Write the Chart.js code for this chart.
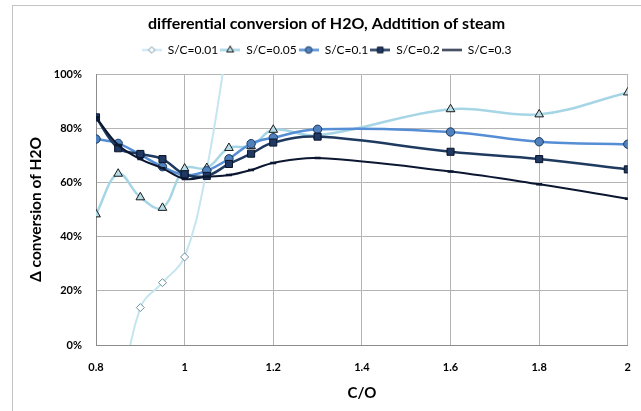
<!DOCTYPE html>
<html><head><meta charset="utf-8">
<script src="https://cdn.jsdelivr.net/npm/chart.js@4"></script>
<style>
html,body{margin:0;padding:0;background:#fff;}
#wrap{position:relative;width:641px;height:411px;overflow:hidden;}
#frame{position:absolute;left:12px;top:5px;width:700px;height:500px;border-left:1px solid #c4c4c4;border-top:1px solid #c4c4c4;}
canvas{position:absolute;left:0;top:0;}
</style></head><body>
<div id="wrap"><div id="frame"></div><canvas id="c" width="641" height="411"></canvas></div>
<script>
// ---- data ----
const chartTitle = 'differential conversion of H2O, Addtition of steam';
const xAxisTitle = 'C/O';
const yAxisTitle = '\u0394 conversion of H2O';
const seriesNames = ['S/C=0.01', 'S/C=0.05', 'S/C=0.1', 'S/C=0.2', 'S/C=0.3'];
const xValues = [0.8, 0.85, 0.9, 0.95, 1.0, 1.05, 1.1, 1.15, 1.2, 1.3, 1.6, 1.8, 2.0];
const xValuesSC001 = [0.85, 0.9, 0.95, 1.0, 1.05, 1.1];
const sc001 = [-25, 13.8, 23.0, 32.5, 65, 115];
const sc005 = [48.2, 63.2, 54.5, 50.6, 65.1, 65.3, 72.7, 73.4, 79.4, 77.3, 87.0, 85.1, 93.2];
const sc01  = [76.0, 74.4, 70.2, 65.8, 62.7, 64.3, 68.7, 74.3, 76.5, 79.6, 78.6, 75.0, 74.1];
const sc02  = [84.0, 72.6, 70.5, 68.6, 63.0, 62.4, 66.8, 70.6, 74.7, 76.9, 71.3, 68.6, 64.8];
const sc03  = [84.0, 73.8, 68.6, 65.2, 61.3, 62.1, 62.7, 64.6, 67.2, 69.0, 64.0, 59.3, 54.0];
const xTickValues = [0.8, 1.0, 1.2, 1.4, 1.6, 1.8, 2.0];
const xTickLabels = ['0.8', '1', '1.2', '1.4', '1.6', '1.8', '2'];
const yTickValues = [0, 20, 40, 60, 80, 100];
const yTickLabels = ['0%', '20%', '40%', '60%', '80%', '100%'];

const FONT = 'Lato, "Open Sans", sans-serif';
const toPts = (xs, ys) => xs.map((x, i) => ({x: x, y: ys[i]}));

const styles = [
  {line: '#c5e5f0', lw: 2,   ps: 'rectRot',  r: 4,   fill: '#ffffff', bc: '#6f8fa0', bw: 1},
  {line: '#a6d6e6', lw: 2.5, ps: 'triangle', r: 5,   fill: '#b7dde9', bc: '#1a1a1a', bw: 1},
  {line: '#558ed5', lw: 2.5, ps: 'circle',   r: 4.2, fill: '#4f81bd', bc: '#1f3a60', bw: 1},
  {line: '#1f3a5f', lw: 2.5, ps: 'rect',     r: 5,   fill: '#1f3864', bc: '#0a1428', bw: 1},
  {line: '#0b1730', lw: 2,   ps: 'line',     r: 3,   fill: '#0b1730', bc: '#0b1730', bw: 2.5}
];

function legendSymbol(st) {
  const cv = document.createElement('canvas');
  cv.width = 20; cv.height = 11;
  const g = cv.getContext('2d');
  g.strokeStyle = st.line; g.lineWidth = st.lw;
  g.beginPath(); g.moveTo(0, 5.5); g.lineTo(20, 5.5); g.stroke();
  if (st.ps !== 'line') {
    g.fillStyle = st.fill; g.strokeStyle = st.bc; g.lineWidth = st.bw;
    Chart.helpers.drawPoint(g, {pointStyle: st.ps, radius: st.r * 0.8, borderWidth: st.bw, rotation: 0}, 10, 5.5);
  }
  return cv;
}

const allData = [toPts(xValuesSC001, sc001), toPts(xValues, sc005), toPts(xValues, sc01), toPts(xValues, sc02), toPts(xValues, sc03)];

const datasets = allData.map((d, i) => ({
  label: seriesNames[i],
  data: d,
  xAxisID: 'x', yAxisID: 'y',
  borderColor: styles[i].line,
  borderWidth: styles[i].lw,
  backgroundColor: styles[i].fill,
  pointStyle: styles[i].ps,
  pointRadius: styles[i].r,
  pointBackgroundColor: styles[i].fill,
  pointBorderColor: styles[i].bc,
  pointBorderWidth: styles[i].bw,
  tension: 0.38,
  cubicInterpolationMode: 'default',
  capBezierPoints: false,
  fill: false,
  clip: 0,
  order: 5 - i
}));

new Chart(document.getElementById('c'), {
  type: 'line',
  data: {datasets: datasets},
  options: {
    responsive: false,
    animation: false,
    devicePixelRatio: 1,
    layout: {padding: {left: 12, top: 0, right: 0, bottom: 0}},
    plugins: {
      tooltip: {enabled: false},
      title: {
        display: true, text: chartTitle, color: '#000',
        font: {family: FONT, size: 16, weight: 'bold', lineHeight: 1.2},
        padding: {top: 14.4, bottom: 8.4}
      },
      legend: {
        display: true, position: 'top',
        labels: {
          color: '#000',
          font: {family: FONT, size: 12},
          usePointStyle: true,
          pointStyleWidth: 20,
          padding: 2,
          sort: (a, b) => a.datasetIndex - b.datasetIndex,
          generateLabels: (chart) => chart.data.datasets.map((ds, i) => ({
            text: ds.label, datasetIndex: i, pointStyle: legendSymbol(styles[i]),
            fillStyle: 'transparent', strokeStyle: 'transparent', lineWidth: 0, hidden: false, fontColor: '#000'
          }))
        }
      }
    },
    scales: {
      x: {
        type: 'linear', position: 'bottom', min: 0.8, max: 2.0,
        afterBuildTicks: (s) => { s.ticks = xTickValues.map(v => ({value: v})); },
        afterFit: (s) => { s.height = 66; },
        ticks: {
          color: '#000', padding: 10, maxRotation: 0,
          font: {family: FONT, size: 11, weight: 'bold', lineHeight: 2.2},
          callback: (v, i) => xTickLabels[i]
        },
        grid: {color: '#b4b4b4', lineWidth: 1, drawTicks: false},
        border: {color: '#8c8c8c', width: 1},
        title: {
          display: true, text: xAxisTitle, color: '#000',
          font: {family: FONT, size: 15, weight: 'bold', lineHeight: 1.2},
          padding: {top: 0, bottom: 9}
        }
      },
      spacer: {
        type: 'linear', axis: 'x', position: 'top', display: true,
        grid: {display: false, drawTicks: false}, ticks: {display: false}, border: {display: false},
        afterFit: (s) => { s.height = 8; }
      },
      y: {
        type: 'linear', position: 'left', min: 0, max: 100,
        afterBuildTicks: (s) => { s.ticks = yTickValues.map(v => ({value: v})); },
        afterFit: (s) => { s.width = 84; },
        ticks: {
          color: '#000', padding: 14,
          font: {family: FONT, size: 11, weight: 'bold'},
          callback: (v, i) => yTickLabels[i]
        },
        grid: {color: '#b4b4b4', lineWidth: 1, drawTicks: false},
        border: {color: '#8c8c8c', width: 1},
        title: {
          display: true, text: yAxisTitle, color: '#000',
          font: {family: FONT, size: 15.5, weight: 'bold', lineHeight: 1.2},
          padding: {top: 15, bottom: 0}
        }
      }
    }
  }
});
</script>
</body></html>
